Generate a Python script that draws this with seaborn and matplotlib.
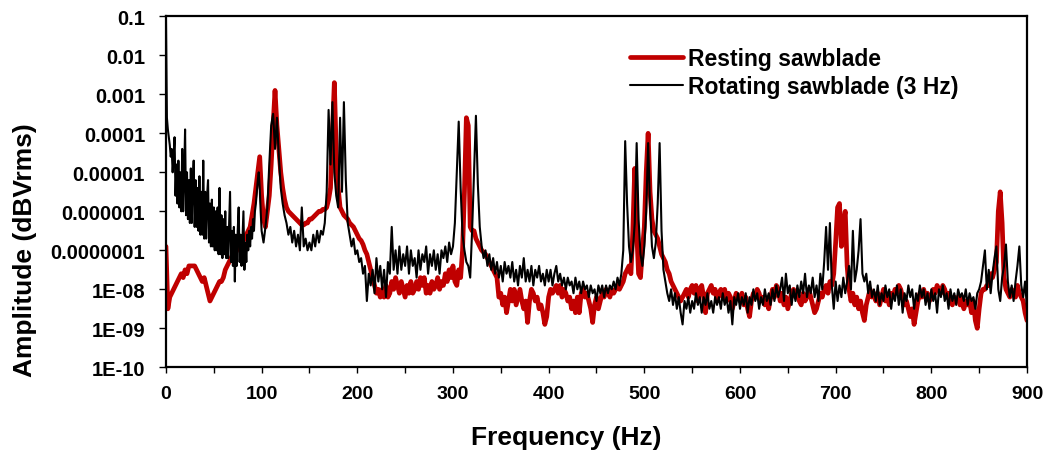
import numpy as np
import pandas as pd
import matplotlib
matplotlib.use("Agg")
import matplotlib.pyplot as plt
import seaborn as sns
from matplotlib.ticker import FixedLocator, FixedFormatter, MultipleLocator

# ---------------- data ----------------
series_names = ["Resting sawblade", "Rotating sawblade (3 Hz)"]
series_colors = ["#C00000", "#000000"]

y_tick_values = [1e-1, 1e-2, 1e-3, 1e-4, 1e-5, 1e-6, 1e-7, 1e-8, 1e-9, 1e-10]
y_tick_labels = ["0.1", "0.01", "0.001", "0.0001", "0.00001", "0.000001",
                 "0.0000001", "1E-08", "1E-09", "1E-10"]
x_tick_values = [0, 100, 200, 300, 400, 500, 600, 700, 800, 900]

# Resting sawblade: log10(amplitude) every 2 Hz from 0 to 900 Hz
resting_step_hz = 2
resting_log10_amp = [
    -6.9, -8.5, -8.2, -8.1, -8.0, -7.9, -7.8, -7.7, -7.6, -7.7,      # 0-18
    -7.5, -7.6, -7.4, -7.4, -7.4, -7.4, -7.5, -7.6, -7.7, -7.8,      # 20-38
    -7.7, -7.9, -8.1, -8.3, -8.2, -8.1, -8.0, -7.9, -7.8, -7.8,      # 40-58
    -7.7, -7.5, -7.4, -7.3, -7.2, -7.1, -7.1, -7.0, -6.9, -6.8,      # 60-78
    -6.8, -6.7, -6.6, -6.5, -6.4, -6.1, -5.8, -5.4, -5.0, -4.6,      # 80-98
    -5.6, -6.2, -6.4, -6.0, -5.6, -4.8, -3.8, -2.9, -3.8, -4.4,      # 100-118
    -5.0, -5.4, -5.7, -5.9, -6.0, -6.05, -6.1, -6.15, -6.2, -6.25,   # 120-138
    -6.3, -6.35, -6.35, -6.3, -6.3, -6.2, -6.2, -6.15, -6.1, -6.05,  # 140-158
    -6.0, -6.0, -5.95, -5.95, -5.9, -5.7, -5.4, -4.0, -2.7, -4.5,    # 160-178
    -5.4, -5.9, -6.0, -6.1, -6.15, -6.2, -6.3, -6.35, -6.4, -6.5,    # 180-198
    -6.6, -6.7, -6.75, -6.85, -7.0, -7.1, -7.3, -7.5, -7.7, -7.9,    # 200-218
    -8.1, -8.0, -8.2, -8.0, -8.2, -7.9, -8.2, -8.1, -7.8, -8.0,      # 220-238
    -7.7, -7.9, -8.1, -7.8, -8.0, -8.2, -7.9, -8.1, -7.8, -8.1,      # 240-258
    -8.0, -7.8, -8.0, -7.7, -7.9, -7.7, -8.1, -7.9, -8.1, -7.8,      # 260-278
    -8.0, -7.9, -7.7, -8.0, -7.8, -7.9, -7.6, -7.8, -7.5, -7.7,      # 280-298
    -7.4, -7.8, -7.9, -7.5, -7.7, -7.0, -5.5, -3.6, -3.8, -6.4,      # 300-318
    -6.5, -6.5, -6.7, -6.8, -6.9, -7.0, -7.05, -7.1, -7.2, -7.3,     # 320-338
    -7.4, -7.5, -7.6, -7.7, -8.2, -8.1, -8.4, -8.2, -8.6, -8.3,      # 340-358
    -8.0, -8.3, -8.0, -8.4, -8.2, -8.0, -8.3, -8.5, -8.3, -8.85,     # 360-378
    -8.3, -8.0, -8.1, -8.3, -8.2, -8.5, -8.4, -8.6, -8.9, -8.7,      # 380-398
    -8.2, -8.0, -8.1, -8.0, -7.9, -8.1, -7.9, -8.2, -8.0, -8.1,      # 400-418
    -8.3, -8.2, -8.5, -8.3, -8.6, -8.2, -8.6, -8.1, -8.0, -8.2,      # 420-438
    -8.1, -8.3, -8.5, -8.85, -8.4, -8.2, -8.5, -8.3, -8.1, -8.2,     # 440-458
    -8.0, -8.1, -8.2, -8.0, -8.1, -8.0, -7.9, -8.0, -7.9, -7.8,      # 460-478
    -7.6, -7.5, -7.4, -7.6, -6.5, -4.9, -6.5, -7.6, -7.7, -7.0,      # 480-498
    -6.4, -5.0, -4.0, -5.5, -6.2, -6.5, -6.6, -6.7, -6.9, -7.1,      # 500-518
    -7.2, -7.3, -7.5, -7.6, -7.8, -7.9, -8.0, -8.1, -8.2, -8.3,      # 520-538
    -8.2, -8.1, -8.0, -8.2, -8.0, -7.9, -8.1, -7.9, -8.3, -8.0,      # 540-558
    -7.9, -8.2, -8.6, -8.1, -8.0, -7.9, -8.1, -8.0, -8.3, -8.1,      # 560-578
    -8.0, -8.2, -8.0, -8.3, -8.1, -8.2, -8.5, -8.3, -8.1, -8.2,      # 580-598
    -8.3, -8.1, -8.4, -8.2, -8.5, -8.7, -8.3, -8.1, -8.2, -8.0,      # 600-618
    -8.1, -8.3, -8.2, -8.4, -8.3, -8.5, -8.2, -8.0, -8.2, -7.9,      # 620-638
    -8.0, -8.3, -8.1, -8.4, -8.2, -8.5, -8.3, -8.1, -8.0, -8.2,      # 640-658
    -8.1, -8.3, -8.4, -8.1, -8.3, -8.2, -8.0, -8.2, -8.4, -8.6,      # 660-678
    -8.5, -8.3, -8.1, -8.2, -8.0, -7.9, -8.1, -7.8, -7.9, -7.6,      # 680-698
    -6.8, -5.9, -5.8, -6.9, -6.3, -6.0, -7.4, -8.0, -8.3, -8.1,      # 700-718
    -8.4, -8.2, -8.5, -8.3, -8.6, -8.8, -8.4, -8.2, -8.0, -8.2,      # 720-738
    -8.1, -8.3, -8.1, -8.4, -8.2, -8.0, -8.3, -8.2, -8.4, -8.1,      # 740-758
    -8.2, -8.0, -8.1, -7.9, -8.0, -8.2, -8.4, -8.3, -8.5, -8.7,      # 760-778
    -8.5, -8.9, -8.6, -8.3, -8.1, -8.2, -8.0, -8.2, -8.1, -8.3,      # 780-798
    -8.2, -8.0, -8.1, -7.9, -8.0, -8.1, -7.9, -8.0, -8.2, -8.1,      # 800-818
    -8.3, -8.4, -8.2, -8.3, -8.2, -8.4, -8.2, -8.5, -8.3, -8.4,      # 820-838
    -8.3, -8.6, -8.3, -8.8, -9.0, -8.5, -8.1, -8.0, -8.0, -7.9,      # 840-858
    -7.9, -7.6, -7.7, -7.5, -7.3, -6.0, -5.5, -6.3, -7.7, -8.0,      # 860-878
    -8.1, -8.2, -8.0, -8.1, -8.2, -7.9, -8.1, -8.2, -8.3, -8.6,      # 880-898
    -8.8,                                                            # 900
]

# Rotating sawblade: log10(amplitude) every 1 Hz from 0 to 99 Hz ...
rotating_low_step_hz = 1
rotating_low_log10_amp = [
    -1.0, -3.6, -3.9, -4.1, -4.3, -4.6, -4.4, -5.0, -4.6, -4.1,      # 0-9
    -5.6, -4.8, -5.8, -4.7, -5.9, -5.0, -6.0, -4.4, -6.0, -5.1,      # 10-19
    -3.9, -6.1, -5.0, -6.2, -5.2, -6.3, -4.9, -6.3, -5.3, -4.7,      # 20-29
    -6.4, -5.2, -6.4, -5.4, -6.5, -5.1, -6.6, -5.5, -6.6, -4.7,      # 30-39
    -6.7, -5.5, -6.7, -5.6, -5.2, -6.8, -5.8, -6.9, -5.7, -6.9,      # 40-49
    -5.9, -7.0, -6.0, -7.0, -5.9, -7.1, -5.4, -7.1, -6.1, -7.2,      # 50-59
    -6.2, -7.1, -6.0, -7.2, -6.4, -7.2, -6.3, -5.5, -7.3, -6.5,      # 60-69
    -7.4, -6.4, -7.8, -6.6, -7.4, -6.5, -5.9, -7.3, -6.6, -7.4,      # 70-79
    -6.7, -6.0, -7.5, -6.8, -7.3, -6.6, -7.0, -6.5, -6.9, -6.4,      # 80-89
    -6.7, -6.2, -6.5, -6.0, -5.8, -5.5, -5.2, -5.0, -5.4, -6.0,      # 90-99
]
# ... then every 2 Hz from 100 to 900 Hz
rotating_high_start_hz = 100
rotating_high_step_hz = 2
rotating_high_log10_amp = [
    -6.5, -6.8, -6.4, -5.9, -4.8, -3.8, -3.5, -4.4, -3.6, -4.6,      # 100-118
    -5.4, -5.8, -6.1, -6.3, -6.6, -6.4, -6.8, -6.5, -6.9, -6.6,      # 120-138
    -7.0, -5.9, -6.9, -6.7, -7.0, -6.8, -7.0, -6.6, -6.9, -6.5,      # 140-158
    -6.8, -6.5, -6.6, -6.3, -5.5, -3.4, -4.8, -3.2, -5.0, -5.6,      # 160-178
    -5.9, -3.6, -5.5, -3.2, -5.2, -6.3, -6.6, -6.9, -6.7, -7.1,      # 180-198
    -7.0, -7.3, -7.2, -7.6, -7.4, -8.3, -7.6, -7.9, -7.5, -8.1,      # 200-218
    -7.2, -7.8, -7.4, -8.0, -7.5, -8.2, -7.3, -7.6, -6.4, -7.5,      # 220-238
    -7.0, -7.6, -6.9, -7.5, -7.1, -7.4, -6.9, -7.6, -7.0, -7.4,      # 240-258
    -7.2, -7.7, -7.0, -7.5, -7.1, -7.3, -6.9, -7.6, -7.1, -7.4,      # 260-278
    -7.0, -7.5, -7.1, -7.6, -7.0, -7.2, -6.9, -7.3, -6.8, -7.1,      # 280-298
    -6.9, -6.3, -5.0, -3.7, -5.4, -6.6, -7.0, -7.3, -7.4, -7.7,      # 300-318
    -6.5, -5.0, -3.55, -5.3, -6.4, -6.9, -7.2, -7.0, -7.4, -7.1,     # 320-338
    -7.5, -7.2, -7.6, -7.3, -7.7, -7.4, -7.8, -7.3, -7.6, -7.4,      # 340-358
    -7.7, -7.3, -7.8, -7.5, -7.9, -7.4, -7.7, -7.2, -7.8, -7.5,      # 360-378
    -7.8, -7.4, -7.9, -7.5, -7.7, -7.4, -7.8, -7.6, -7.9, -7.5,      # 380-398
    -7.8, -7.5, -7.9, -7.6, -7.4, -7.8, -7.6, -7.9, -7.7, -8.0,      # 400-418
    -7.7, -7.9, -7.8, -8.1, -7.7, -8.0, -7.8, -8.1, -7.8, -8.0,      # 420-438
    -7.9, -8.2, -7.9, -8.1, -8.0, -8.3, -7.9, -8.1, -7.9, -8.2,      # 440-458
    -7.9, -8.1, -7.9, -8.0, -7.8, -8.0, -7.7, -7.9, -7.6, -7.0,      # 460-478
    -4.2, -5.8, -6.9, -7.3, -7.0, -6.3, -4.25, -6.2, -7.1, -7.4,     # 480-498
    -6.9, -6.0, -4.25, -5.9, -6.9, -7.2, -6.8, -5.8, -4.25, -6.5,    # 500-518
    -7.5, -7.8, -8.1, -8.3, -8.0, -8.4, -8.1, -8.5, -8.2, -8.6,      # 520-538
    -8.9, -8.3, -8.5, -8.2, -8.6, -8.3, -8.5, -8.1, -8.4, -8.2,      # 540-558
    -8.6, -8.2, -8.4, -8.1, -8.5, -8.3, -8.6, -8.2, -8.4, -8.2,      # 560-578
    -8.5, -8.1, -8.4, -8.2, -8.6, -8.3, -8.9, -8.2, -8.4, -8.1,      # 580-598
    -8.5, -8.2, -8.4, -8.1, -8.6, -8.2, -8.4, -8.0, -8.3, -8.1,      # 600-618
    -8.5, -8.2, -8.4, -8.0, -8.3, -8.1, -8.4, -8.0, -8.3, -7.9,      # 620-638
    -8.2, -8.0, -7.7, -8.3, -7.6, -8.1, -7.9, -8.4, -8.0, -8.3,      # 640-658
    -7.9, -8.2, -7.8, -8.1, -7.6, -8.2, -7.9, -8.1, -7.7, -8.2,      # 660-678
    -7.9, -8.3, -7.6, -8.0, -7.3, -6.4, -7.5, -6.3, -7.9, -8.5,      # 680-698
    -7.8, -8.3, -7.9, -8.2, -7.7, -8.1, -7.8, -7.4, -8.0, -6.5,      # 700-718
    -7.8, -7.5, -7.0, -6.2, -7.6, -7.8, -7.6, -8.1, -7.8, -8.2,      # 720-738
    -8.0, -8.3, -7.9, -8.4, -8.1, -8.3, -7.9, -8.2, -8.0, -8.5,      # 740-758
    -8.1, -8.3, -7.9, -8.4, -8.0, -8.6, -8.1, -8.3, -7.9, -8.2,      # 760-778
    -8.0, -8.5, -8.1, -8.3, -7.9, -8.2, -8.0, -8.4, -8.1, -8.5,      # 780-798
    -8.0, -8.3, -8.1, -8.6, -8.0, -8.2, -7.9, -8.3, -8.1, -8.5,      # 800-818
    -8.0, -8.3, -8.1, -8.4, -8.0, -8.2, -8.1, -8.3, -8.0, -8.4,      # 820-838
    -8.1, -8.3, -8.2, -8.5, -8.1, -8.0, -7.8, -7.4, -7.0, -8.0,      # 840-858
    -7.5, -8.1, -7.6, -7.2, -6.9, -8.0, -8.3, -7.7, -7.4, -6.85,     # 860-878
    -7.8, -8.2, -7.9, -8.3, -7.8, -7.4, -6.9, -7.9, -8.2, -7.8,      # 880-898
    -8.5,                                                            # 900
]

assert len(resting_log10_amp) == 451
assert len(rotating_low_log10_amp) == 100
assert len(rotating_high_log10_amp) == 401

# ---------------- build tidy frames ----------------
resting_freq = np.arange(len(resting_log10_amp)) * resting_step_hz
rotating_freq = np.concatenate([
    np.arange(len(rotating_low_log10_amp)) * rotating_low_step_hz,
    rotating_high_start_hz + np.arange(len(rotating_high_log10_amp)) * rotating_high_step_hz,
])
rotating_log = np.array(rotating_low_log10_amp + rotating_high_log10_amp)

df_rest = pd.DataFrame({"Frequency": resting_freq,
                        "Amplitude": 10.0 ** np.array(resting_log10_amp),
                        "Series": series_names[0]})
df_rot = pd.DataFrame({"Frequency": rotating_freq,
                       "Amplitude": 10.0 ** rotating_log,
                       "Series": series_names[1]})

# ---------------- plotting ----------------
sns.set_style("white")
plt.rcParams["font.family"] = ["Liberation Sans", "DejaVu Sans"]
plt.rcParams["font.weight"] = "bold"
for key in ["text.color", "axes.labelcolor", "xtick.color", "ytick.color",
            "axes.edgecolor"]:
    plt.rcParams[key] = "black"

fig = plt.figure(figsize=(10.47, 4.56), dpi=100)
ax = fig.add_axes([0.1585, 0.1923, 0.8224, 0.7697])

sns.lineplot(data=df_rest, x="Frequency", y="Amplitude", ax=ax,
             color=series_colors[0], linewidth=3.4, estimator=None,
             label=series_names[0])
sns.lineplot(data=df_rot, x="Frequency", y="Amplitude", ax=ax,
             color=series_colors[1], linewidth=1.5, estimator=None,
             label=series_names[1])

ax.set_yscale("log")
ax.set_ylim(1e-10, 1e-1)
ax.set_xlim(0, 900)

ax.yaxis.set_major_locator(FixedLocator(y_tick_values))
ax.yaxis.set_major_formatter(FixedFormatter(y_tick_labels))
ax.yaxis.set_minor_locator(FixedLocator([]))
ax.xaxis.set_major_locator(FixedLocator(x_tick_values))
ax.xaxis.set_minor_locator(MultipleLocator(50))

ax.tick_params(axis="y", which="major", direction="out", length=5, width=1.0,
               pad=10, labelsize=14.5, left=True, colors="black")
ax.tick_params(axis="x", which="major", direction="out", length=4, width=1.0,
               pad=9, labelsize=14, bottom=True, colors="black")
ax.tick_params(axis="x", which="minor", direction="out", length=4, width=1.0,
               bottom=True, colors="black")
for lab in ax.get_xticklabels() + ax.get_yticklabels():
    lab.set_fontweight("bold")
    lab.set_color("black")

for side in ["top", "right", "left", "bottom"]:
    ax.spines[side].set_visible(True)
    ax.spines[side].set_color("black")
    ax.spines[side].set_linewidth(1.6)

ax.set_xlabel("Frequency (Hz)", fontsize=19, fontweight="bold", color="black")
ax.set_ylabel("Amplitude (dBVrms)", fontsize=19, fontweight="bold", color="black")
ax.xaxis.set_label_coords(0.465, -0.165)
ax.yaxis.set_label_coords(-0.150, 0.337)

leg = ax.legend(loc="upper left", bbox_to_anchor=(630 / 1047, 1 - 48 / 456),
                bbox_transform=fig.transFigure, frameon=False,
                prop={"weight": "bold", "size": 16.5},
                handlelength=2.3, handletextpad=0.25, labelspacing=0.2,
                borderpad=0, borderaxespad=0)
for t in leg.get_texts():
    t.set_color("black")

fig.savefig("out.png", dpi=100)
